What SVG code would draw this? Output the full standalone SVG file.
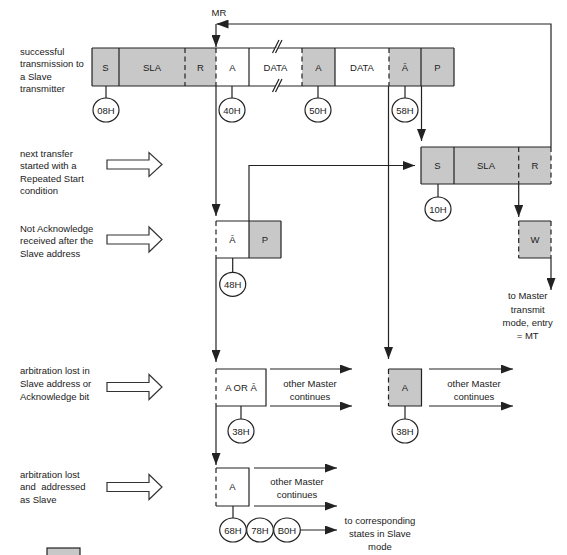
<svg xmlns="http://www.w3.org/2000/svg" width="567" height="555" viewBox="0 0 567 555">
<defs>
<style>
.t{font-family:"Liberation Sans",Arial,sans-serif;font-size:9.5px;fill:#222}
.c{text-anchor:middle}
.g{fill:#c8c8c8;stroke:none}
.w{fill:#fff;stroke:none}
.ln{stroke:#222;stroke-width:1.2;fill:none}
.d{stroke:#222;stroke-width:1.2;stroke-dasharray:5,3.5;fill:none}
.cir{fill:#fff;stroke:#222;stroke-width:1.2}
.ba{fill:#fff;stroke:#333;stroke-width:1.2}
.ar{stroke:#222;stroke-width:1.2;fill:none;marker-end:url(#ah)}
</style>
<marker id="ah" viewBox="0 0 12 9" refX="12" refY="4.5" markerWidth="12" markerHeight="9" markerUnits="userSpaceOnUse" orient="auto">
<path d="M0,0 L12,4.5 L0,9 z" fill="#222"/>
</marker>
</defs>
<rect width="567" height="555" fill="#fff"/>

<!-- left labels -->
<g id="label-successful">
<text class="t" x="20" y="54.5">successful</text>
<text class="t" x="20" y="67">transmission to</text>
<text class="t" x="20" y="79.5">a Slave</text>
<text class="t" x="20" y="92">transmitter</text>
</g>
<g id="label-next">
<text class="t" x="20" y="156.5">next transfer</text>
<text class="t" x="20" y="169">started with a</text>
<text class="t" x="20" y="181.5">Repeated Start</text>
<text class="t" x="20" y="194">condition</text>
<polygon class="ba" points="107,160 149,160 149,152.5 162,164.5 149,176.5 149,169 107,169"/>
</g>
<g id="label-nack">
<text class="t" x="20" y="231.5">Not Acknowledge</text>
<text class="t" x="20" y="244">received after the</text>
<text class="t" x="20" y="256.5">Slave address</text>
<polygon class="ba" points="107,235 149,235 149,227 162,239.5 149,252 149,244 107,244"/>
</g>
<g id="label-arb1">
<text class="t" x="20" y="374">arbitration lost in</text>
<text class="t" x="20" y="386.5">Slave address or</text>
<text class="t" x="20" y="399.5">Acknowledge bit</text>
<polygon class="ba" points="107,382.5 149,382.5 149,374.5 162,387 149,399.5 149,391.5 107,391.5"/>
</g>
<g id="label-arb2">
<text class="t" x="20" y="477.5">arbitration lost</text>
<text class="t" x="20" y="490" xml:space="preserve">and  addressed</text>
<text class="t" x="20" y="503">as Slave</text>
<polygon class="ba" points="107,482.5 149,482.5 149,474.5 162,487 149,499.5 149,491.5 107,491.5"/>
</g>
<g id="legend">
<rect x="47" y="548" width="33" height="12" fill="#c8c8c8" stroke="#222" stroke-width="1.2"/>
</g>

<!-- top row -->
<g id="row1">
<rect class="g" x="92" y="48" width="124" height="38"/>
<rect class="g" x="302" y="48" width="33" height="38"/>
<rect class="g" x="389" y="48" width="65" height="38"/>
<path class="ln" d="M92,48 H454 M92,86 H454 M92,48 V86 M119,48 V86 M249,48 V86 M335,48 V86 M421,48 V86 M454,48 V86"/>
<path class="d" d="M185,48 V86 M216,48 V86 M302,48 V86 M389,48 V86"/>
<polygon class="w" points="272.5,50 275,50 281.5,46 279,46"/>
<polygon class="w" points="272.5,90 275,90 281.5,82 279,82"/>
<path class="ln" d="M272.5,53 L279,40 M275.5,53 L282,40 M272.5,92 L279,79 M275.5,92 L282,79"/>
<text class="t c" x="105.5" y="71">S</text>
<text class="t c" x="152" y="71">SLA</text>
<text class="t c" x="200.5" y="71">R</text>
<text class="t c" x="232.5" y="71">A</text>
<text class="t c" x="275.5" y="71">DATA</text>
<text class="t c" x="318.5" y="71">A</text>
<text class="t c" x="362" y="71">DATA</text>
<text class="t c" x="405" y="71">Ā</text>
<text class="t c" x="437.5" y="71">P</text>
<path class="ln" d="M106,86 V98 M232,86 V98 M318,86 V98 M405,86 V98"/>
<ellipse class="cir" cx="106" cy="110" rx="13" ry="12"/>
<ellipse class="cir" cx="232" cy="110" rx="13" ry="12"/>
<ellipse class="cir" cx="318" cy="110" rx="13" ry="12"/>
<ellipse class="cir" cx="405" cy="110" rx="13" ry="12"/>
<text class="t c" x="106" y="113.5">08H</text>
<text class="t c" x="232" y="113.5">40H</text>
<text class="t c" x="318" y="113.5">50H</text>
<text class="t c" x="405" y="113.5">58H</text>
<text class="t c" x="219" y="16">MR</text>
</g>

<!-- second row S SLA R -->
<g id="row2">
<rect class="g" x="421" y="147" width="130" height="37"/>
<path class="ln" d="M421,147 H551 M421,184 H551 M421,147 V184 M454,147 V184"/>
<path class="d" d="M518.7,147 V184 M551,147 V184"/>
<text class="t c" x="437.5" y="169">S</text>
<text class="t c" x="486" y="169">SLA</text>
<text class="t c" x="535" y="169">R</text>
<path class="ln" d="M438,184 V197"/>
<ellipse class="cir" cx="438" cy="209" rx="13" ry="12"/>
<text class="t c" x="438" y="212.5">10H</text>
</g>

<!-- W box -->
<g id="w-box">
<rect class="g" x="518.7" y="221" width="32.3" height="37"/>
<path class="ln" d="M518.7,221 H551 M518.7,258 H551"/>
<path class="d" d="M518.7,221 V258 M551,221 V258"/>
<text class="t c" x="535" y="243">W</text>
<text class="t c" x="527.7" y="299">to Master</text>
<text class="t c" x="527.7" y="312.5">transmit</text>
<text class="t c" x="527.7" y="326">mode, entry</text>
<text class="t c" x="527.7" y="338.5">= MT</text>
</g>

<!-- NACK A P -->
<g id="nack-box">
<rect class="g" x="249" y="221" width="32" height="37"/>
<path class="ln" d="M216,221 H281 M216,258 H281 M249,221 V258 M281,221 V258"/>
<path class="d" d="M216,221 V258"/>
<text class="t c" x="232.5" y="243">Ā</text>
<text class="t c" x="265" y="243">P</text>
<path class="ln" d="M232.7,258 V272"/>
<ellipse class="cir" cx="232.7" cy="284.3" rx="13" ry="12"/>
<text class="t c" x="232.7" y="287.8">48H</text>
</g>

<!-- A OR A box -->
<g id="aorna-box">
<path class="ln" d="M216,369 H266 V406 H216"/>
<path class="d" d="M216,369 V406"/>
<text class="t c" x="241" y="391">A OR Ā</text>
<path class="ln" d="M241,406 V419"/>
<ellipse class="cir" cx="241" cy="431" rx="13" ry="12"/>
<text class="t c" x="241" y="434.5">38H</text>
<text class="t c" x="310" y="386.5">other Master</text>
<text class="t c" x="310" y="399.5">continues</text>
</g>

<!-- gray A box -->
<g id="a-gray-box">
<rect class="g" x="388.5" y="369" width="33" height="37"/>
<path class="ln" d="M388.5,369 H421.5 V406 H388.5"/>
<path class="d" d="M388.5,369 V406"/>
<text class="t c" x="405" y="391">A</text>
<path class="ln" d="M405,406 V419"/>
<ellipse class="cir" cx="405" cy="431" rx="13" ry="12"/>
<text class="t c" x="405" y="434.5">38H</text>
<text class="t c" x="474" y="386.5">other Master</text>
<text class="t c" x="474" y="399.5">continues</text>
</g>

<!-- A box slave -->
<g id="a-slave-box">
<path class="ln" d="M216,468 H249 V506 H216"/>
<path class="d" d="M216,468 V506"/>
<text class="t c" x="232.5" y="490">A</text>
<path class="ln" d="M233,506 V518"/>
<ellipse class="cir" cx="233" cy="530" rx="13.3" ry="12"/>
<ellipse class="cir" cx="260" cy="530" rx="13.3" ry="12"/>
<ellipse class="cir" cx="287" cy="530" rx="13.3" ry="12"/>
<text class="t c" x="233" y="533.5">68H</text>
<text class="t c" x="260" y="533.5">78H</text>
<text class="t c" x="287" y="533.5">B0H</text>
<text class="t c" x="297" y="485">other Master</text>
<text class="t c" x="297" y="497.5">continues</text>
<text class="t c" x="380" y="523.5">to corresponding</text>
<text class="t c" x="380" y="537">states in Slave</text>
<text class="t c" x="380" y="550">mode</text>
</g>

<!-- connectors -->
<g id="connectors">
<path class="ar" d="M551,147 V24 H216.5"/>
<path class="ar" d="M216,24 V47"/>
<path class="ar" d="M216,86 V216"/>
<path class="ar" d="M216,258 V362"/>
<path class="ar" d="M216,406 V465"/>
<path class="ar" d="M388.5,86 V359"/>
<path class="ar" d="M421.5,86 V141"/>
<path class="ar" d="M249,221 V165.5 H415"/>
<path class="ar" d="M518.7,184 V217"/>
<path class="ar" d="M551,258 V290"/>
<path class="ar" d="M270,369 H352"/>
<path class="ar" d="M270,406 H352"/>
<path class="ar" d="M429,369 H513"/>
<path class="ar" d="M429,406 H513"/>
<path class="ar" d="M254,468 H337"/>
<path class="ar" d="M254,506 H337"/>
<path class="ar" d="M300.3,530 H337"/>
</g>
</svg>
